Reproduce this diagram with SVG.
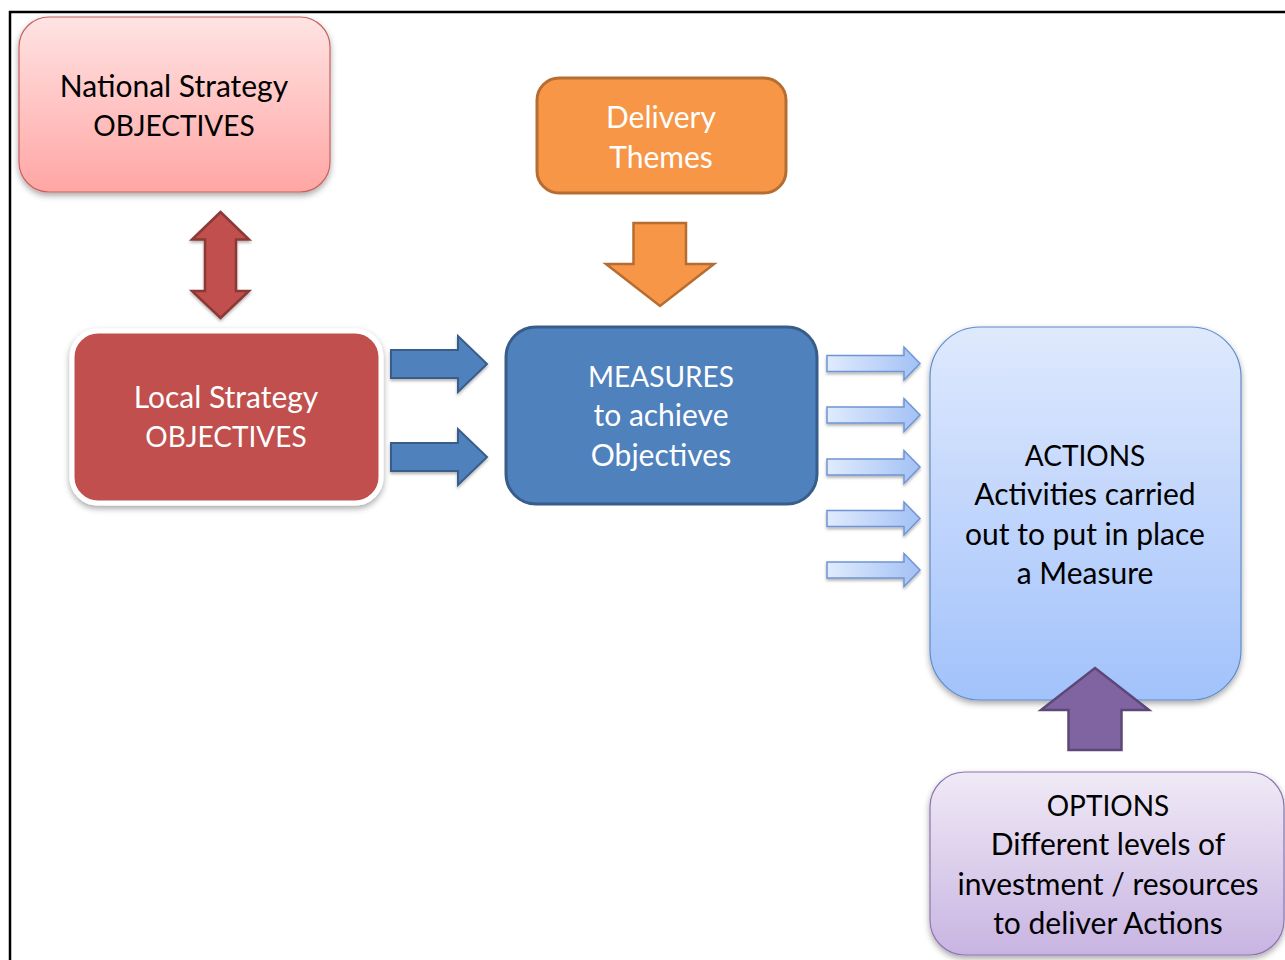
<svg xmlns="http://www.w3.org/2000/svg" width="1285" height="960" viewBox="0 0 1285 960">
  <defs>
    <linearGradient id="gNational" x1="0" y1="0" x2="0" y2="1">
      <stop offset="0" stop-color="#FFE3E3"/>
      <stop offset="1" stop-color="#FFA6A4"/>
    </linearGradient>
    <linearGradient id="gActions" x1="0" y1="0" x2="0" y2="1">
      <stop offset="0" stop-color="#DFE9FD"/>
      <stop offset="1" stop-color="#A2C2FB"/>
    </linearGradient>
    <linearGradient id="gOptions" x1="0" y1="0" x2="0" y2="1">
      <stop offset="0" stop-color="#F0EAF6"/>
      <stop offset="1" stop-color="#C8B4E2"/>
    </linearGradient>
    <linearGradient id="gLight" x1="0" y1="0" x2="1" y2="0">
      <stop offset="0" stop-color="#E0EBFD"/>
      <stop offset="1" stop-color="#A3C1F5"/>
    </linearGradient>
    <filter id="shadow" x="-10%" y="-10%" width="120%" height="125%">
      <feDropShadow dx="0" dy="3" stdDeviation="3" flood-color="#000" flood-opacity="0.35"/>
    </filter>
    <filter id="shadowSm" x="-10%" y="-20%" width="120%" height="150%">
      <feDropShadow dx="0" dy="2" stdDeviation="1.5" flood-color="#000" flood-opacity="0.3"/>
    </filter>
  </defs>
  <style>
    text { font-family: Lato, "Open Sans", "Liberation Sans", sans-serif; font-size: 30px; text-anchor: middle; }
    text.caps { font-size: 28px; }
    .dark { fill: #000; }
    .light { fill: #fff; }
    .redArrow { fill: #C0504D; stroke: #8C3836; stroke-width: 2.5; }
    .orangeArrow { fill: #F79646; stroke: #B66D31; stroke-width: 2.5; }
    .blueArrow { fill: #4F81BD; stroke: #385D8A; stroke-width: 2; }
    .lightArrow { fill: url(#gLight); stroke: #6F95D4; stroke-width: 1.5; }
    .purpleArrow { fill: #8064A2; stroke: #5C4776; stroke-width: 2.5; }
  </style>

  <rect width="1285" height="960" fill="#fff"/>
  <!-- page frame -->
  <path d="M10 960 V12 H1285" fill="none" stroke="#000" stroke-width="2.5"/>

  <g id="national">
    <rect x="19" y="17" width="311" height="175" rx="30" fill="url(#gNational)" stroke="#C9605E" stroke-width="1.2" filter="url(#shadow)"/>
    <text class="dark" x="174" y="97">National Strategy</text>
    <text class="dark caps" x="174" y="136">OBJECTIVES</text>
  </g>

  <g id="delivery">
    <rect x="537" y="78" width="249" height="115" rx="22" fill="#F79646" stroke="#B66D31" stroke-width="3"/>
    <text class="light" x="661" y="128">Delivery</text>
    <text class="light" x="661" y="168">Themes</text>
  </g>

  <g id="local">
    <rect x="72" y="331" width="309" height="172" rx="26" fill="#C0504D" stroke="#fff" stroke-width="5" filter="url(#shadow)"/>
    <text class="light" x="226" y="408">Local Strategy</text>
    <text class="light caps" x="226" y="447">OBJECTIVES</text>
  </g>

  <g id="measures">
    <rect x="506" y="327" width="311" height="177" rx="30" fill="#4F81BD" stroke="#385D8A" stroke-width="3"/>
    <text class="light caps" x="661" y="387">MEASURES</text>
    <text class="light" x="661" y="426">to achieve</text>
    <text class="light" x="661" y="466">Objectives</text>
  </g>

  <g id="actions">
    <rect x="930" y="327" width="311" height="373" rx="50" fill="url(#gActions)" stroke="#5F8CCB" stroke-width="1.2" filter="url(#shadow)"/>
    <text class="dark caps" x="1085" y="466">ACTIONS</text>
    <text class="dark" x="1085" y="505">Activities carried</text>
    <text class="dark" x="1085" y="545">out to put in place</text>
    <text class="dark" x="1085" y="584">a Measure</text>
  </g>

  <g id="options">
    <rect x="930" y="772" width="354" height="183" rx="35" fill="url(#gOptions)" stroke="#8D74B1" stroke-width="1.2" filter="url(#shadow)"/>
    <text class="dark caps" x="1108" y="816">OPTIONS</text>
    <text class="dark" x="1108" y="855">Different levels of</text>
    <text class="dark" x="1108" y="895">investment / resources</text>
    <text class="dark" x="1108" y="934">to deliver Actions</text>
  </g>

  <g id="connectors">
    <!-- national <-> local -->
    <path class="redArrow" filter="url(#shadowSm)" d="M220.5 212 L249 239.5 H236 V291 H249 L220.5 318 L192 291 H205 V239.5 H192 Z"/>
    <!-- delivery themes -> measures -->
    <path class="orangeArrow" d="M633.5 223 H686 V264 H714 L660 306 L606 264 H633.5 Z"/>
    <!-- local -> measures -->
    <path class="blueArrow" filter="url(#shadowSm)" d="M391 350 H458 V336 L487 364 L458 392 V378 H391 Z"/>
    <path class="blueArrow" filter="url(#shadowSm)" d="M391 443 H458 V429 L487 457 L458 485 V471 H391 Z"/>
    <!-- measures -> actions -->
    <path class="lightArrow" filter="url(#shadowSm)" d="M827 355.5 H904 V347 L920 363.5 L904 380 V371.5 H827 Z"/>
    <path class="lightArrow" filter="url(#shadowSm)" d="M827 407 H904 V398.5 L920 415 L904 431.5 V423 H827 Z"/>
    <path class="lightArrow" filter="url(#shadowSm)" d="M827 459 H904 V450.5 L920 467 L904 483.5 V475 H827 Z"/>
    <path class="lightArrow" filter="url(#shadowSm)" d="M827 510.5 H904 V502 L920 518.5 L904 535 V526.5 H827 Z"/>
    <path class="lightArrow" filter="url(#shadowSm)" d="M827 562 H904 V553.5 L920 570 L904 586.5 V578 H827 Z"/>
    <!-- options -> actions -->
    <path class="purpleArrow" d="M1095 668 L1149 710 H1121.5 V750 H1068.5 V710 H1041 Z"/>
  </g>
</svg>
